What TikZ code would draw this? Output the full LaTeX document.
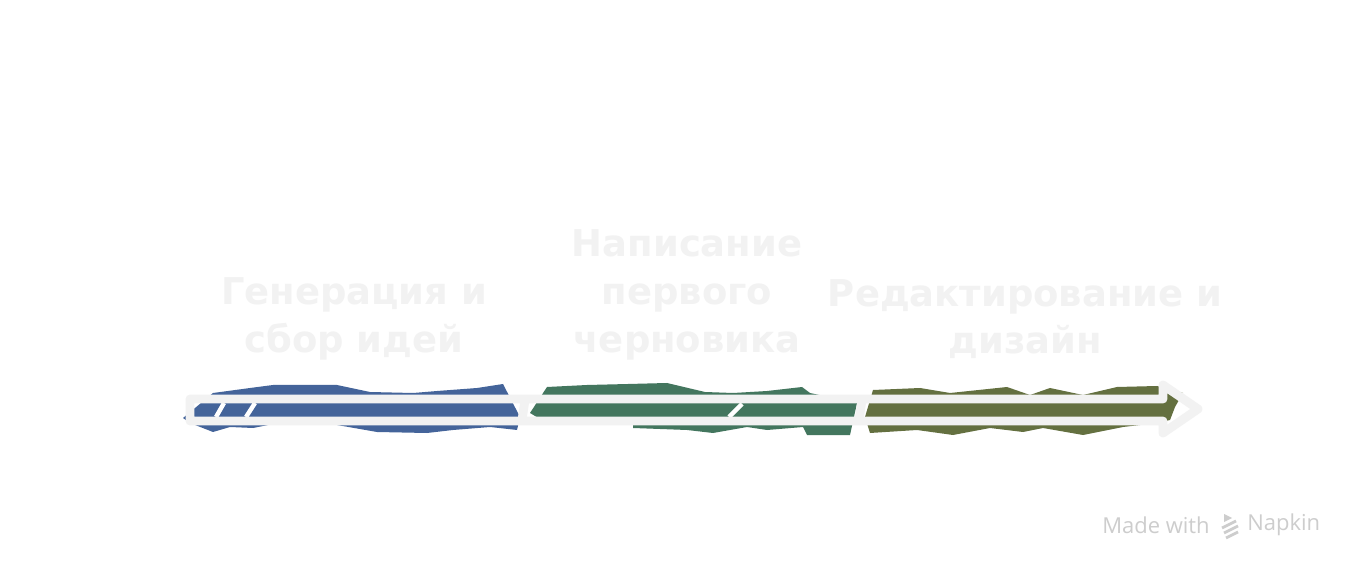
\documentclass[tikz,border=0pt]{standalone}
\usepackage{fontspec}
\setmainfont{DejaVu Sans}
\newfontfamily\markfont{Open Sans}
\usepackage{tikz}
\usetikzlibrary{calc,positioning}

\definecolor{stageblue}{RGB}{68,100,154}
\definecolor{stagegreen}{RGB}{67,118,94}
\definecolor{stageolive}{RGB}{100,112,64}
\definecolor{paleline}{RGB}{242,242,242}
\definecolor{marktext}{RGB}{205,205,205}

\begin{document}
\begin{tikzpicture}[
  x=0.02cm, y=-0.02cm,
  stagetext/.style={text=paleline, font=\fontsize{21}{27.2}\selectfont\bfseries, align=center, inner sep=0pt},
  outline/.style={draw=paleline, line width=5pt, line join=round, line cap=round},
  slash/.style={draw=white, line width=2.5pt},
  marklabel/.style={text=marktext, font=\markfont\fontsize{12.5}{13}\selectfont, inner sep=0pt},
  >=latex
]
\useasboundingbox[fill=white] (0,0) rectangle (1368,580);

% rough coloured strokes under the arrow
\fill[stageblue] (183,418) -- (213,393) -- (250,388) -- (273,385) -- (303,385) -- (337,385)
  -- (370,392) -- (413,393) -- (437,391) -- (477,388) -- (503,384) -- (520,417)
  -- (517,430) -- (490,427) -- (453,430) -- (427,433) -- (377,432) -- (337,425)
  -- (293,420) -- (253,428) -- (230,427) -- (213,432) -- (190,423) -- cycle;
\fill[stagegreen] (530,413) -- (547,387) -- (587,385) -- (628,384) -- (667,383) -- (705,392)
  -- (733,393) -- (767,391) -- (802,387) -- (810,393) -- (857,403) -- (850,435)
  -- (807,435) -- (803,427) -- (767,430) -- (747,427) -- (713,433) -- (687,430)
  -- (633,428) -- (633,423) -- (540,419) -- cycle;
\fill[stageolive] (865,417) -- (873,390) -- (920,388) -- (950,393) -- (1007,387) -- (1030,395)
  -- (1050,388) -- (1083,395) -- (1117,387) -- (1157,386) -- (1183,393) -- (1175,407)
  -- (1170,420) -- (1157,423) -- (1123,427) -- (1083,435) -- (1043,428) -- (1023,432)
  -- (990,428) -- (953,435) -- (917,430) -- (870,433) -- cycle;

% white nicks in the strokes
\draw[slash] (216,417) -- (224,403);
\draw[slash] (246,417) -- (255,403);
\draw[slash] (729,417) -- (742,404);

% the arrow outline
\draw[outline] (190,399) -- (1163,399) -- (1163,385) -- (1198,409) -- (1163,433)
  -- (1163,421) -- (190,421) -- cycle;
\draw[outline] (525,400) -- (522,420);
\draw[outline] (862,400) -- (859,420);

\node[stagetext] (gen) at (354,319) {Генерация и\\сбор идей};
\node[stagetext] (draft) at (687,295) {Написание\\первого\\черновика};
\node[stagetext] (edit) at (1025,319) {Редактирование и\\дизайн};

% watermark
\node[marklabel, anchor=east] (made) at (1210,525) {Made with};
\node[marklabel, anchor=west] (napkin) at (1247,525) {Napkin};
\fill[marktext] (1224,514) -- (1232,518) -- (1224,522) -- cycle;
\draw[marktext, line width=1.6pt] (1222,528) -- (1236,521) (1224,533) -- (1238,526) (1226,538) -- (1238,532);
\end{tikzpicture}
\end{document}
